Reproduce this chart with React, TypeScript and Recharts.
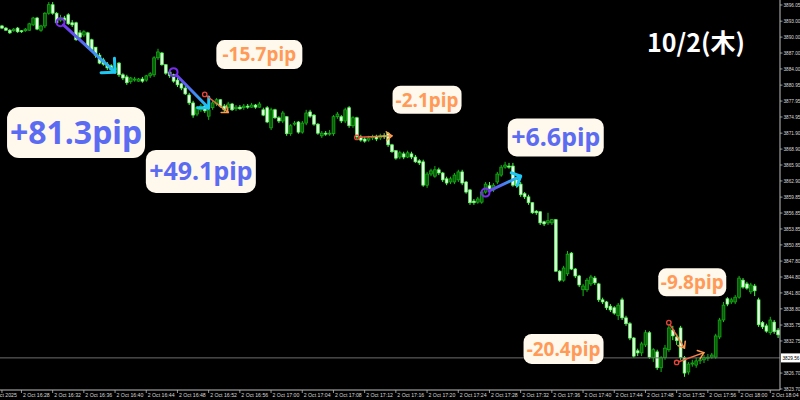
import React from "react";
import { ComposedChart, Bar, XAxis, YAxis, ReferenceLine, ReferenceDot } from "recharts";

// ---- candle data (30-second candles, 2 Oct 2025, starting 16:25:30) ----
const opens = [
  3892.1, 3891.7, 3891.3, 3891.2, 3891.7, 3891.2, 3891.2, 3891.3, 3892.3, 3893.6,
  3891.3, 3892.1, 3894.5, 3896.1, 3894.5, 3893.2, 3893.6, 3894.2, 3892.7, 3892.7,
  3890.8, 3890.4, 3890.8, 3889.5, 3888.1, 3886.6, 3885.7, 3884.9, 3884.6, 3883.8,
  3885.1, 3882.9, 3882.5, 3881.6, 3881.9, 3881.7, 3882.1, 3881.9, 3882.7, 3882.9,
  3886.1, 3887.0, 3884.8, 3883.4, 3882.9, 3881.9, 3881.2, 3880.4, 3879.1, 3877.6,
  3875.5, 3876.3, 3877.0, 3875.1, 3876.7, 3877.4, 3878.2, 3877.0, 3876.7, 3877.4,
  3876.5, 3876.8, 3876.7, 3877.0, 3876.8, 3877.2, 3876.8, 3876.3, 3876.7, 3872.9,
  3876.3, 3874.8, 3874.2, 3875.0, 3871.8, 3873.6, 3874.0, 3872.1, 3873.8, 3875.9,
  3875.3, 3873.6, 3871.4, 3871.9, 3871.8, 3871.8, 3875.0, 3875.0, 3874.2, 3876.7,
  3873.3, 3874.8, 3871.2, 3870.8, 3870.6, 3871.0, 3871.2, 3871.0, 3871.4, 3871.9,
  3869.7, 3868.6, 3867.4, 3868.0, 3867.4, 3868.0, 3867.4, 3866.7, 3866.5, 3862.1,
  3864.2, 3863.8, 3865.0, 3864.4, 3863.3, 3862.7, 3862.7, 3863.1, 3864.6, 3862.7,
  3861.2, 3859.1, 3858.9, 3858.9, 3860.8, 3862.0, 3861.2, 3862.7, 3864.0, 3865.5,
  3865.7, 3865.7, 3863.1, 3862.3, 3860.5, 3859.9, 3858.8, 3857.2, 3857.1, 3855.2,
  3855.0, 3855.0, 3855.6, 3845.9, 3844.2, 3845.4, 3849.3, 3846.3, 3845.0, 3842.4,
  3842.4, 3843.5, 3844.6, 3843.5, 3840.5, 3840.1, 3839.3, 3839.0, 3837.5, 3840.5,
  3837.1, 3836.0, 3833.3, 3830.9, 3830.5, 3832.0, 3834.3, 3829.6, 3830.7, 3827.7,
  3829.6, 3831.1, 3834.8, 3833.5, 3835.2, 3829.6, 3826.9, 3828.4, 3828.2, 3829.0,
  3829.2, 3829.6, 3829.7, 3829.7, 3833.5, 3836.7, 3840.7, 3840.1, 3840.1, 3841.0,
  3844.2, 3843.5, 3842.0, 3843.1, 3840.5, 3836.2, 3835.6, 3834.3, 3836.3, 3834.8,
];
const highs = [
  3892.3, 3891.9, 3891.5, 3891.7, 3891.9, 3891.3, 3891.7, 3892.7, 3893.8, 3893.8,
  3892.3, 3894.7, 3896.6, 3896.6, 3894.7, 3894.2, 3894.0, 3894.5, 3893.2, 3892.9,
  3891.3, 3891.3, 3891.0, 3889.7, 3888.1, 3887.0, 3886.1, 3885.3, 3884.9, 3884.6,
  3885.3, 3883.2, 3882.9, 3882.5, 3882.5, 3882.3, 3882.5, 3882.9, 3883.4, 3886.4,
  3887.8, 3887.2, 3884.9, 3883.8, 3883.1, 3882.3, 3881.4, 3880.8, 3879.5, 3878.0,
  3877.0, 3877.4, 3877.4, 3876.7, 3878.0, 3878.5, 3878.3, 3877.4, 3877.8, 3877.6,
  3877.2, 3877.2, 3877.4, 3877.4, 3877.6, 3877.4, 3877.8, 3876.7, 3877.0, 3876.7,
  3876.5, 3875.1, 3876.1, 3875.1, 3873.6, 3874.2, 3874.2, 3874.2, 3876.3, 3876.3,
  3875.5, 3873.8, 3872.3, 3872.3, 3872.5, 3875.3, 3875.9, 3875.3, 3876.7, 3877.0,
  3875.1, 3875.0, 3871.6, 3871.2, 3871.4, 3871.6, 3871.6, 3871.8, 3871.9, 3872.1,
  3869.9, 3868.7, 3868.6, 3868.4, 3868.6, 3868.4, 3867.8, 3867.0, 3866.9, 3864.6,
  3865.2, 3865.7, 3865.4, 3864.6, 3863.7, 3863.7, 3864.4, 3865.0, 3865.0, 3862.9,
  3861.4, 3859.5, 3859.9, 3861.2, 3862.7, 3862.7, 3862.5, 3864.6, 3865.9, 3866.5,
  3866.3, 3866.3, 3863.5, 3862.7, 3860.8, 3860.3, 3858.9, 3857.4, 3857.2, 3855.4,
  3856.9, 3855.7, 3855.7, 3846.1, 3846.9, 3849.7, 3849.5, 3846.5, 3845.2, 3843.5,
  3844.6, 3845.2, 3845.0, 3843.7, 3840.9, 3840.3, 3839.7, 3839.3, 3839.9, 3840.9,
  3837.5, 3836.3, 3833.5, 3831.3, 3832.6, 3834.8, 3834.6, 3831.4, 3831.1, 3829.9,
  3832.0, 3835.8, 3835.6, 3834.1, 3835.6, 3829.9, 3828.8, 3829.2, 3829.6, 3829.7,
  3830.1, 3830.3, 3830.5, 3834.1, 3837.1, 3840.1, 3841.0, 3840.9, 3841.4, 3845.0,
  3844.6, 3843.9, 3843.7, 3843.5, 3840.9, 3836.5, 3836.0, 3837.3, 3836.7, 3835.2,
];
const lows = [
  3891.5, 3891.2, 3890.6, 3891.0, 3890.8, 3890.8, 3891.0, 3891.2, 3892.1, 3891.3,
  3891.0, 3891.7, 3894.2, 3894.2, 3892.5, 3892.9, 3892.9, 3892.3, 3891.9, 3889.3,
  3889.7, 3890.0, 3887.8, 3887.2, 3886.1, 3884.9, 3884.6, 3883.8, 3883.4, 3883.6,
  3882.5, 3881.9, 3881.0, 3881.2, 3881.6, 3881.6, 3881.4, 3881.6, 3882.3, 3882.5,
  3885.7, 3884.6, 3882.9, 3882.3, 3881.4, 3880.6, 3880.0, 3879.1, 3877.2, 3874.8,
  3875.1, 3875.9, 3875.7, 3874.4, 3876.3, 3877.0, 3876.7, 3875.9, 3876.3, 3876.1,
  3876.1, 3876.3, 3876.3, 3876.5, 3876.7, 3876.5, 3876.7, 3875.1, 3873.8, 3872.5,
  3874.6, 3873.8, 3873.8, 3871.4, 3871.4, 3873.3, 3871.8, 3871.8, 3873.4, 3874.8,
  3873.3, 3871.6, 3871.0, 3871.4, 3871.4, 3871.4, 3874.6, 3873.8, 3873.8, 3872.9,
  3872.9, 3870.8, 3870.3, 3870.1, 3870.3, 3870.6, 3870.4, 3870.6, 3870.8, 3869.3,
  3868.2, 3866.9, 3867.0, 3867.0, 3867.2, 3867.0, 3866.3, 3865.9, 3861.8, 3861.6,
  3863.8, 3863.5, 3864.0, 3862.7, 3862.1, 3862.3, 3862.3, 3862.7, 3862.1, 3860.5,
  3858.4, 3858.4, 3858.6, 3858.6, 3860.5, 3861.0, 3860.8, 3862.3, 3863.7, 3865.2,
  3865.2, 3861.8, 3861.6, 3859.9, 3859.5, 3858.4, 3856.7, 3856.5, 3854.6, 3854.4,
  3854.6, 3854.6, 3845.8, 3843.9, 3843.9, 3845.0, 3846.1, 3844.6, 3842.9, 3841.2,
  3842.0, 3843.1, 3843.3, 3840.1, 3839.7, 3838.6, 3838.2, 3837.7, 3836.7, 3836.7,
  3835.6, 3832.9, 3829.6, 3829.9, 3829.9, 3831.6, 3829.4, 3828.8, 3827.3, 3826.9,
  3829.2, 3830.7, 3832.9, 3832.0, 3829.2, 3826.0, 3826.4, 3827.9, 3827.7, 3828.4,
  3828.6, 3829.0, 3829.4, 3829.4, 3833.1, 3836.3, 3839.3, 3839.7, 3839.7, 3840.7,
  3842.6, 3842.4, 3841.6, 3841.2, 3835.4, 3835.0, 3834.3, 3833.9, 3834.1, 3833.3,
];
const closes = [
  3891.7, 3891.3, 3890.8, 3891.5, 3891.0, 3891.0, 3891.5, 3892.5, 3893.6, 3891.5,
  3892.1, 3894.5, 3896.1, 3894.5, 3892.7, 3893.6, 3893.2, 3892.5, 3892.3, 3889.5,
  3890.0, 3891.0, 3888.1, 3887.6, 3886.6, 3885.1, 3884.9, 3884.2, 3883.8, 3884.2,
  3882.9, 3882.3, 3881.4, 3882.3, 3882.1, 3882.1, 3881.7, 3882.7, 3883.1, 3886.1,
  3887.2, 3884.8, 3883.2, 3882.7, 3881.7, 3881.0, 3880.4, 3879.3, 3877.6, 3875.3,
  3876.7, 3877.0, 3876.1, 3876.3, 3877.6, 3878.2, 3877.0, 3876.3, 3877.4, 3876.3,
  3876.8, 3876.5, 3877.0, 3876.8, 3877.2, 3876.8, 3877.4, 3875.3, 3874.0, 3876.3,
  3874.8, 3874.2, 3875.7, 3871.8, 3873.3, 3873.8, 3872.1, 3873.8, 3875.7, 3875.1,
  3873.6, 3871.9, 3871.9, 3871.8, 3871.9, 3875.0, 3875.5, 3874.2, 3876.3, 3873.3,
  3874.8, 3871.2, 3870.6, 3870.4, 3871.0, 3871.2, 3870.8, 3871.4, 3871.2, 3869.7,
  3868.4, 3867.2, 3868.2, 3867.4, 3868.2, 3867.4, 3866.5, 3866.3, 3862.1, 3864.2,
  3864.8, 3865.0, 3864.4, 3863.1, 3862.5, 3863.3, 3864.0, 3864.6, 3862.5, 3860.8,
  3858.8, 3858.8, 3859.5, 3860.8, 3862.3, 3861.4, 3862.1, 3864.2, 3865.5, 3865.9,
  3865.5, 3862.1, 3862.0, 3860.3, 3859.9, 3858.8, 3856.9, 3856.9, 3855.0, 3854.8,
  3855.4, 3855.6, 3845.9, 3844.2, 3846.5, 3849.1, 3846.3, 3845.0, 3843.3, 3843.1,
  3844.2, 3844.8, 3843.7, 3840.5, 3840.1, 3839.0, 3838.6, 3838.0, 3839.5, 3837.1,
  3836.0, 3833.3, 3829.9, 3830.5, 3832.2, 3834.3, 3829.7, 3831.1, 3827.7, 3829.6,
  3831.4, 3835.2, 3833.7, 3832.8, 3829.6, 3826.7, 3828.4, 3828.6, 3829.0, 3829.2,
  3829.6, 3829.7, 3830.1, 3833.7, 3836.7, 3839.5, 3839.7, 3840.5, 3841.0, 3844.6,
  3842.9, 3842.7, 3843.3, 3842.2, 3835.8, 3835.4, 3834.6, 3836.7, 3834.5, 3833.9,
];

const firstCandleTime = "16:25:30";
const candleSeconds = 30;
const dateLabel = "2 Oct 2025";
const dayPrefix = "2 Oct ";
const timeTicks = [
  "16:28", "16:32", "16:36", "16:40", "16:44", "16:48", "16:52", "16:56",
  "17:00", "17:04", "17:08", "17:12", "17:16", "17:20", "17:24", "17:28",
  "17:32", "17:36", "17:40", "17:44", "17:48", "17:52", "17:56", "18:00", "18:04",
];
const priceTicks = [
  3896.05, 3893.0, 3890.0, 3887.0, 3884.0, 3880.95, 3877.95, 3874.95, 3871.9,
  3868.9, 3865.9, 3862.9, 3859.85, 3856.85, 3853.85, 3850.85, 3847.8, 3844.8,
  3841.8, 3838.8, 3835.75, 3832.75, 3826.7, 3823.7,
];
const priceDomain = [3823.51, 3896.99];
const currentPrice = 3829.56;

// annotation arrows: candle index + price at each end
const trendArrows = [
  { from: 15, fromPrice: 3892.8, to: 29, toPrice: 3883.4, tone: "blue" },
  { from: 44, fromPrice: 3883.4, to: 53, toPrice: 3876.65, tone: "blue" },
  { from: 52, fromPrice: 3879.2, to: 58, toPrice: 3875.8, tone: "orange" },
  { from: 91, fromPrice: 3871.1, to: 100, toPrice: 3871.4, tone: "orange" },
  { from: 124, fromPrice: 3860.7, to: 133, toPrice: 3863.8, tone: "blue" },
  { from: 171, fromPrice: 3836.2, to: 175, toPrice: 3831.4, tone: "orange" },
  { from: 173, fromPrice: 3828.7, to: 180, toPrice: 3830.55, tone: "orange" },
];
const arrowHeadSizes = [14, 11, 7, 7, 10, 7, 7];

const pipLabels = [
  { text: "+81.3pip", at: 19, price: 3872.04, tone: "blue" },
  { text: "+49.1pip", at: 51, price: 3864.7, tone: "blue" },
  { text: "-15.7pip", at: 66, price: 3886.7, tone: "orange" },
  { text: "-2.1pip", at: 109, price: 3878.2, tone: "orange" },
  { text: "+6.6pip", at: 142, price: 3871.1, tone: "blue" },
  { text: "-9.8pip", at: 177, price: 3843.8, tone: "orange" },
  { text: "-20.4pip", at: 144, price: 3831.25, tone: "orange" },
];
const labelBoxes = [
  { w: 138, h: 51, f: 32, r: 12 },
  { w: 110, h: 43, f: 25, r: 10 },
  { w: 86, h: 29, f: 19, r: 8 },
  { w: 69, h: 28, f: 19, r: 8 },
  { w: 96, h: 38, f: 25, r: 9 },
  { w: 68, h: 28, f: 19, r: 8 },
  { w: 80, h: 30, f: 19, r: 8 },
];
const dayTitle = "10/2(木)";

// ---- styling ----
const BEAR_FILL = "#eaffea";
const BEAR_LINE = "#4cff4c";
const BULL_FILL = "#0a5c0a";
const BULL_LINE = "#14b814";
const AXIS_COLOR = "#bdbdbd";
const TEXT_COLOR = "#d8d8d8";
const BLUE_TEXT = "#5b6cf2";
const ORANGE_TEXT = "#ff9a58";
const BOX_FILL = "#fff8ec";

const toClock = (sec: number) => {
  const h = Math.floor(sec / 3600);
  const m = Math.floor((sec % 3600) / 60);
  const s = sec % 60;
  const p = (n: number) => String(n).padStart(2, "0");
  return `${p(h)}:${p(m)}:${p(s)}`;
};
const startSec = (() => {
  const [h, m, s] = firstCandleTime.split(":").map(Number);
  return h * 3600 + m * 60 + s;
})();
const timeOf = (i: number) => toClock(startSec + i * candleSeconds);

const data = opens.map((o, i) => ({
  time: timeOf(i),
  open: o,
  high: highs[i],
  low: lows[i],
  close: closes[i],
  range: [lows[i], highs[i]],
}));

const Candle = (props: any) => {
  const { x, y, width, height, payload } = props;
  if (!payload) return null;
  const { open, close, high, low } = payload;
  const top = Math.min(y, y + height);
  const h = Math.abs(height);
  const span = high - low;
  const py = (v: number) => (span > 0 ? top + ((high - v) / span) * h : top);
  const cx = x + width / 2;
  const bear = close < open;
  const yO = py(open);
  const yC = py(close);
  const bTop = Math.min(yO, yC);
  const bH = Math.max(Math.abs(yO - yC), 1);
  return (
    <g>
      <line x1={cx} x2={cx} y1={top} y2={top + h} stroke={bear ? BEAR_LINE : BULL_LINE} strokeWidth={1} />
      <rect
        x={cx - 1.4}
        y={bTop}
        width={2.8}
        height={bH}
        fill={bear ? BEAR_FILL : BULL_FILL}
        stroke={bear ? BEAR_LINE : BULL_LINE}
        strokeWidth={0.7}
      />
    </g>
  );
};

const makeArrow = (tone: string, head: number, id: string) => (p: any) => {
  const { x1, y1, x2, y2 } = p;
  if (x1 == null || x2 == null) return null;
  const blue = tone === "blue";
  const c0 = blue ? "#7a2cf0" : "#e8453a";
  const c1 = blue ? "#1ec8f5" : "#ff9a50";
  const w = blue ? 3 : 1.5;
  const a = Math.atan2(y2 - y1, x2 - x1);
  const half = blue ? Math.PI / 4 : (38 * Math.PI) / 180;
  const ax = x2 - head * Math.cos(a - half);
  const ay = y2 - head * Math.sin(a - half);
  const bx = x2 - head * Math.cos(a + half);
  const by = y2 - head * Math.sin(a + half);
  const r = blue ? 4 : 2.2;
  const sx = x1 + r * Math.cos(a);
  const sy = y1 + r * Math.sin(a);
  return (
    <g>
      <defs>
        <linearGradient id={id} gradientUnits="userSpaceOnUse" x1={x1} y1={y1} x2={x2} y2={y2}>
          <stop offset="0%" stopColor={c0} />
          <stop offset="100%" stopColor={c1} />
        </linearGradient>
      </defs>
      <line x1={sx} y1={sy} x2={x2} y2={y2} stroke={`url(#${id})`} strokeWidth={w} strokeLinecap="round" />
      <polyline
        points={`${ax},${ay} ${x2},${y2} ${bx},${by}`}
        fill="none"
        stroke={c1}
        strokeWidth={w}
        strokeLinecap="round"
        strokeLinejoin="round"
      />
      <circle cx={x1} cy={y1} r={r} fill="none" stroke={c0} strokeWidth={blue ? 2 : 1.3} />
    </g>
  );
};

const makeLabel = (text: string, tone: string, box: { w: number; h: number; f: number; r: number }) => (p: any) => {
  const { cx, cy } = p;
  if (cx == null || cy == null) return null;
  return (
    <g>
      <rect x={cx - box.w / 2} y={cy - box.h / 2} width={box.w} height={box.h} rx={box.r} ry={box.r} fill={BOX_FILL} />
      <text
        x={cx}
        y={cy + box.f * 0.36}
        textAnchor="middle"
        fontFamily="'Noto Sans', 'DejaVu Sans', sans-serif"
        fontWeight={700}
        fontSize={box.f}
        fill={tone === "blue" ? BLUE_TEXT : ORANGE_TEXT}
      >
        {text}
      </text>
    </g>
  );
};

const XTick = (p: any) => {
  const { x, y, payload } = p;
  const v: string = payload.value;
  const isDate = v === firstCandleTime;
  const label = isDate ? dateLabel : dayPrefix + v.slice(0, 5);
  return (
    <g>
      <line x1={x} x2={x} y1={y} y2={y + 3} stroke={AXIS_COLOR} strokeWidth={0.8} />
      <text
        x={isDate ? x - 10.5 : x + 1.5}
        y={y + 7}
        fontFamily="'Liberation Sans', Arial, sans-serif"
        fontSize={5.2}
        fill={TEXT_COLOR}
      >
        {label}
      </text>
    </g>
  );
};

const YTick = (p: any) => {
  const { x, y, payload } = p;
  return (
    <g>
      <line x1={x} x2={x + 2.5} y1={y} y2={y} stroke={AXIS_COLOR} strokeWidth={0.8} />
      <text
        x={x + 3.5}
        y={y + 1.7}
        fontFamily="'Liberation Sans', Arial, sans-serif"
        fontSize={4.7}
        fill={TEXT_COLOR}
      >
        {Number(payload.value).toFixed(2)}
      </text>
    </g>
  );
};

const PriceTag = (p: any) => {
  const vb = p.viewBox || {};
  const x = (vb.x || 0) + (vb.width || 0) + 1;
  const y = vb.y || 0;
  return (
    <g>
      <rect x={x} y={y - 4.5} width={19} height={9} fill="#ffffff" />
      <text x={x + 1.5} y={y + 1.8} fontFamily="'Liberation Sans', Arial, sans-serif" fontSize={4.7} fill="#000">
        {currentPrice.toFixed(2)}
      </text>
    </g>
  );
};

export default function App() {
  return (
    <div
      style={{
        position: "fixed",
        left: 0,
        top: 0,
        width: 800,
        height: 400,
        background: "#000",
        overflow: "hidden",
      }}
    >
      <ComposedChart
        width={800}
        height={400}
        data={data}
        margin={{ top: 0, right: 0, bottom: 0, left: 0 }}
        barCategoryGap={0}
      >
        <XAxis
          dataKey="time"
          type="category"
          height={10}
          ticks={[firstCandleTime, ...timeTicks.map((t) => t + ":00")]}
          interval={0}
          tick={<XTick />}
          tickLine={false}
          tickSize={0}
          tickMargin={0}
          axisLine={{ stroke: AXIS_COLOR, strokeWidth: 1 }}
        />
        <YAxis
          orientation="right"
          type="number"
          width={20}
          domain={priceDomain}
          allowDataOverflow
          ticks={priceTicks}
          interval={0}
          tick={<YTick />}
          tickLine={false}
          tickSize={0}
          tickMargin={0}
          axisLine={{ stroke: AXIS_COLOR, strokeWidth: 1 }}
        />
        <ReferenceLine y={currentPrice} stroke="#6e6e6e" strokeWidth={1} label={<PriceTag />} ifOverflow="visible" />
        <Bar dataKey="range" shape={<Candle />} isAnimationActive={false} />
        {trendArrows.map((a, k) => (
          <ReferenceLine
            key={`ar${k}`}
            segment={[
              { x: timeOf(a.from), y: a.fromPrice },
              { x: timeOf(a.to), y: a.toPrice },
            ]}
            ifOverflow="visible"
            shape={makeArrow(a.tone, arrowHeadSizes[k], `grad${k}`)}
          />
        ))}
        {pipLabels.map((l, k) => (
          <ReferenceDot
            key={`lb${k}`}
            x={timeOf(l.at)}
            y={l.price}
            r={1}
            ifOverflow="visible"
            shape={makeLabel(l.text, l.tone, labelBoxes[k])}
          />
        ))}
      </ComposedChart>
      <div
        style={{
          position: "absolute",
          left: 647,
          top: 24,
          color: "#ffffff",
          fontFamily: "'Noto Sans CJK JP', 'Noto Sans', sans-serif",
          fontWeight: 700,
          fontSize: 25,
          lineHeight: "34px",
          whiteSpace: "nowrap",
        }}
      >
        {dayTitle}
      </div>
    </div>
  );
}
